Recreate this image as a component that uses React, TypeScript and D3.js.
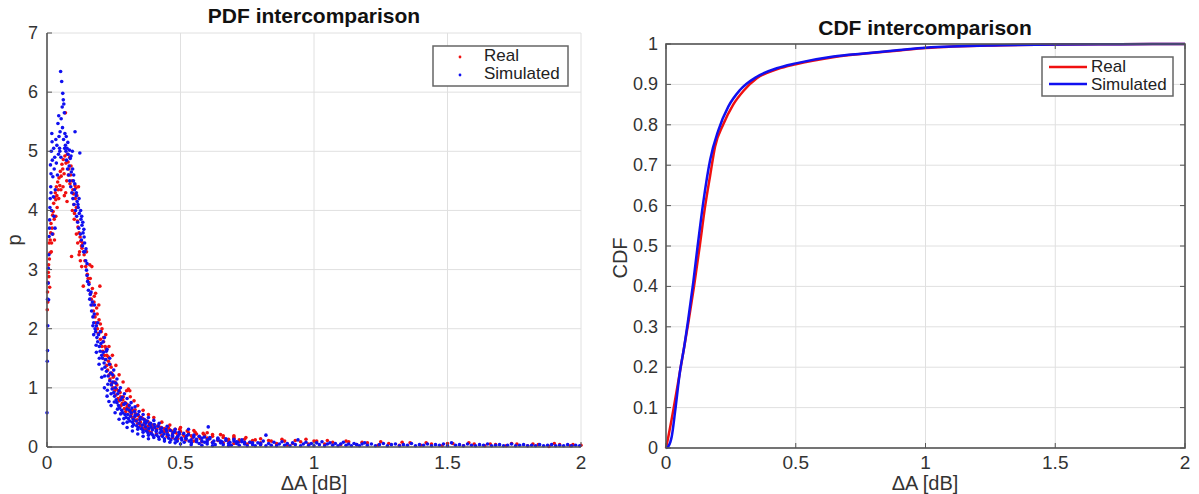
import * as d3 from "d3";

// ---------- DATA ----------
// PDF scatter, [ΔA dB, p]
const realPdf: [number, number][] = [
  [0.001, 2.32], [0.002, 2.62], [0.003, 2.45], [0.004, 2.78], [0.005, 2.95], [0.006, 3.08], [0.007, 2.88], [0.009, 3.18],
  [0.011, 3.28], [0.012, 3.5], [0.014, 3.62], [0.015, 3.78], [0.017, 3.45], [0.019, 3.7], [0.021, 3.92], [0.023, 3.98],
  [0.025, 4.12], [0.027, 3.85], [0.029, 4.22], [0.031, 4.3], [0.033, 4.18], [0.035, 4.4], [0.037, 4.25], [0.04, 4.48],
  [0.042, 4.35], [0.045, 4.55], [0.048, 4.42], [0.05, 4.66], [0.053, 4.58], [0.056, 4.78], [0.059, 4.7], [0.061, 4.86],
  [0.064, 4.62], [0.067, 4.92], [0.069, 5.65], [0.071, 4.8], [0.074, 4.5], [0.076, 4.95], [0.079, 4.82], [0.082, 4.7],
  [0.085, 4.9], [0.088, 4.6], [0.09, 4.75], [0.092, 3.22], [0.094, 4.5], [0.097, 4.35], [0.099, 4.28], [0.101, 4.1],
  [0.103, 3.95], [0.105, 4.42], [0.108, 4.38], [0.11, 4.05], [0.112, 4.25], [0.114, 3.82], [0.116, 3.72], [0.118, 4.4],
  [0.12, 3.62], [0.122, 3.3], [0.124, 3.55], [0.126, 3.48], [0.129, 3.4], [0.131, 3.36], [0.134, 3.45], [0.136, 2.72],
  [0.139, 3.25], [0.142, 3.15], [0.145, 3.05], [0.148, 3.3], [0.151, 2.92], [0.154, 2.85], [0.157, 2.78], [0.16, 3.08],
  [0.163, 2.6], [0.166, 2.5], [0.168, 3.05], [0.171, 2.4], [0.174, 2.3], [0.177, 2.55], [0.18, 2.2], [0.183, 2.1],
  [0.186, 2.35], [0.189, 2.0], [0.192, 1.92], [0.195, 2.15], [0.198, 2.72], [0.2, 1.82], [0.203, 1.95], [0.206, 1.7],
  [0.209, 1.62], [0.212, 1.85], [0.215, 1.55], [0.218, 1.48], [0.221, 1.66], [0.224, 1.38], [0.227, 1.3], [0.23, 1.52],
  [0.233, 1.22], [0.236, 1.15], [0.24, 1.35], [0.243, 1.08], [0.247, 1.0], [0.25, 1.2], [0.254, 0.95], [0.258, 0.88],
  [0.262, 1.05], [0.266, 0.82], [0.27, 0.78], [0.274, 0.92], [0.278, 0.7], [0.282, 0.74], [0.286, 0.85], [0.29, 0.65],
  [0.295, 0.6], [0.3, 0.72], [0.305, 0.98], [0.31, 0.95], [0.315, 0.55], [0.32, 0.62], [0.326, 0.5], [0.332, 0.56],
  [0.338, 0.46], [0.344, 0.52], [0.35, 0.42], [0.357, 0.48], [0.364, 0.38], [0.371, 0.44], [0.378, 0.35], [0.385, 0.4],
  [0.393, 0.32], [0.4, 0.37], [0.41, 0.3], [0.42, 0.34], [0.43, 0.27], [0.44, 0.31], [0.45, 0.25], [0.46, 0.29],
  [0.47, 0.22], [0.48, 0.3], [0.49, 0.2], [0.5, 0.26], [0.515, 0.18], [0.53, 0.24], [0.545, 0.16], [0.56, 0.22],
  [0.575, 0.14], [0.59, 0.2], [0.605, 0.13], [0.62, 0.18], [0.64, 0.11], [0.66, 0.16], [0.68, 0.1], [0.7, 0.15],
  [0.72, 0.09], [0.74, 0.13], [0.76, 0.08], [0.78, 0.12], [0.8, 0.07], [0.83, 0.11], [0.86, 0.06], [0.89, 0.1],
  [0.92, 0.06], [0.95, 0.09], [0.98, 0.05], [1.01, 0.1], [1.04, 0.05], [1.07, 0.08], [1.1, 0.04], [1.13, 0.09],
  [1.16, 0.04], [1.2, 0.07], [1.24, 0.03], [1.28, 0.06], [1.32, 0.03], [1.36, 0.07], [1.4, 0.03], [1.44, 0.05],
  [1.48, 0.02], [1.52, 0.06], [1.56, 0.02], [1.6, 0.05], [1.64, 0.02], [1.68, 0.04], [1.72, 0.02], [1.76, 0.05],
  [1.8, 0.02], [1.84, 0.04], [1.88, 0.01], [1.92, 0.04], [1.96, 0.02], [2.0, 0.03],
  // second layer of the band
  [0.305, 0.66], [0.318, 0.58], [0.33, 0.63], [0.342, 0.54], [0.354, 0.5], [0.366, 0.46], [0.378, 0.43], [0.39, 0.38],
  [0.402, 0.34], [0.415, 0.36], [0.428, 0.33], [0.44, 0.26], [0.455, 0.32], [0.468, 0.27], [0.482, 0.24], [0.497, 0.3],
  [0.51, 0.21], [0.525, 0.27], [0.54, 0.19], [0.555, 0.25], [0.57, 0.17], [0.585, 0.23], [0.6, 0.15], [0.62, 0.21],
  [0.64, 0.14], [0.66, 0.19], [0.68, 0.13], [0.7, 0.17], [0.72, 0.12], [0.745, 0.16], [0.77, 0.11], [0.8, 0.14],
  [0.84, 0.1], [0.88, 0.13], [0.93, 0.11], [0.97, 0.13], [1.0, 0.1], [1.05, 0.11], [1.12, 0.1], [1.18, 0.08],
  [1.25, 0.09], [1.33, 0.08], [1.42, 0.07], [1.5, 0.06], [1.58, 0.07], [1.66, 0.05], [1.74, 0.06], [1.82, 0.05],
  [1.9, 0.06], [1.97, 0.04],
  // third layer
  [0.162, 2.85], [0.17, 2.68], [0.176, 2.45], [0.182, 2.6], [0.188, 2.25], [0.194, 2.4], [0.2, 2.08], [0.206, 2.0],
  [0.212, 1.78], [0.218, 1.7], [0.224, 1.55], [0.23, 1.45], [0.236, 1.4], [0.242, 1.25], [0.248, 1.18], [0.254, 1.1],
  [0.26, 0.98], [0.268, 0.95], [0.276, 0.85], [0.284, 0.8], [0.292, 0.75], [0.3, 0.68], [0.31, 0.6], [0.32, 0.5],
  [0.33, 0.45], [0.34, 0.4], [0.35, 0.36], [0.36, 0.32], [0.37, 0.3], [0.38, 0.27], [0.39, 0.25], [0.41, 0.22],
  [0.43, 0.2], [0.45, 0.18], [0.47, 0.16], [0.49, 0.14], [0.52, 0.12], [0.55, 0.1], [0.58, 0.09], [0.62, 0.08],
  [0.66, 0.07], [0.7, 0.06], [0.75, 0.05], [0.8, 0.04], [0.86, 0.04], [0.9, 0.03],
  [0.06, 4.4], [0.065, 4.25], [0.07, 4.3], [0.075, 4.15], [0.08, 4.6], [0.086, 4.45], [0.095, 4.0], [0.102, 3.85],
  [0.106, 4.2], [0.11, 3.6], [0.115, 3.45], [0.12, 3.25], [0.125, 3.15], [0.13, 3.05], [0.01, 2.7], [0.008, 3.45],
  [0.016, 3.3], [0.022, 3.6], [0.028, 3.5], [0.033, 3.9], [0.038, 4.05], [0.044, 4.2], [0.052, 4.35],
  // outer edge of the band
  [0.22, 1.9], [0.232, 1.7], [0.245, 1.55], [0.258, 1.38], [0.27, 1.22], [0.285, 1.1], [0.298, 0.95], [0.312, 0.85],
  [0.326, 0.78], [0.34, 0.7], [0.36, 0.62], [0.38, 0.55], [0.4, 0.5], [0.43, 0.42], [0.46, 0.37], [0.5, 0.33],
  [0.55, 0.28], [0.6, 0.24], [0.65, 0.21], [0.7, 0.19],
];

const simPdf: [number, number][] = [
  [0.0, 0.58], [0.001, 1.45], [0.002, 1.63], [0.003, 2.05], [0.002, 2.5], [0.004, 2.77], [0.005, 3.02], [0.006, 2.49],
  [0.007, 3.25], [0.008, 3.56], [0.009, 3.7], [0.01, 3.84], [0.011, 4.05], [0.012, 4.2], [0.013, 4.77], [0.014, 4.4],
  [0.015, 4.62], [0.016, 5.0], [0.018, 5.3], [0.019, 5.16], [0.02, 4.85], [0.022, 4.57], [0.024, 4.23], [0.025, 5.05],
  [0.027, 4.7], [0.029, 4.9], [0.031, 4.35], [0.033, 5.2], [0.035, 4.8], [0.037, 5.1], [0.039, 4.6], [0.041, 5.47],
  [0.043, 4.95], [0.045, 5.25], [0.047, 5.05], [0.049, 5.33], [0.051, 6.35], [0.053, 5.55], [0.055, 6.18], [0.057, 5.75],
  [0.059, 5.98], [0.061, 5.87], [0.063, 5.8], [0.065, 5.65], [0.067, 5.3], [0.069, 5.1], [0.071, 5.0], [0.073, 4.85],
  [0.075, 5.05], [0.077, 4.7], [0.079, 4.95], [0.081, 4.6], [0.083, 4.75], [0.085, 4.5], [0.087, 4.88], [0.089, 4.4],
  [0.091, 4.65], [0.093, 4.3], [0.095, 5.0], [0.097, 4.2], [0.099, 4.5], [0.101, 4.1], [0.103, 4.35], [0.105, 5.33],
  [0.107, 4.0], [0.109, 4.25], [0.111, 3.9], [0.113, 4.15], [0.115, 3.8], [0.117, 4.05], [0.119, 3.7], [0.121, 3.95],
  [0.123, 4.97], [0.125, 3.6], [0.127, 3.85], [0.129, 3.5], [0.131, 3.75], [0.133, 3.4], [0.135, 3.62], [0.137, 3.3],
  [0.139, 3.55], [0.142, 3.3], [0.145, 3.15], [0.148, 2.99], [0.15, 2.9], [0.152, 2.8], [0.155, 2.65], [0.157, 2.75],
  [0.16, 2.5], [0.162, 2.58], [0.165, 2.4], [0.167, 2.3], [0.17, 2.45], [0.172, 2.2], [0.175, 2.1], [0.177, 2.25],
  [0.18, 2.0], [0.182, 1.95], [0.185, 2.05], [0.187, 1.85], [0.19, 1.78], [0.193, 1.9], [0.196, 1.7], [0.199, 1.62],
  [0.202, 1.75], [0.205, 1.55], [0.208, 1.5], [0.211, 1.6], [0.214, 1.42], [0.217, 1.35], [0.22, 1.48], [0.223, 1.28],
  [0.226, 0.96], [0.229, 1.2], [0.232, 0.77], [0.235, 1.12], [0.238, 1.25], [0.241, 1.05], [0.244, 0.98], [0.247, 1.1],
  [0.25, 0.92], [0.253, 0.86], [0.256, 1.0], [0.259, 0.8], [0.262, 0.75], [0.265, 0.9], [0.268, 0.7], [0.272, 0.66],
  [0.276, 0.8], [0.28, 0.62], [0.284, 0.58], [0.288, 0.72], [0.292, 0.55], [0.296, 0.5], [0.3, 0.64], [0.305, 0.48],
  [0.31, 0.44], [0.315, 0.58], [0.32, 0.42], [0.325, 0.38], [0.33, 0.52], [0.336, 0.36], [0.342, 0.33], [0.348, 0.46],
  [0.354, 0.31], [0.36, 0.28], [0.366, 0.42], [0.372, 0.27], [0.378, 0.24], [0.384, 0.38], [0.39, 0.23], [0.397, 0.2],
  [0.404, 0.33], [0.411, 0.2], [0.418, 0.17], [0.425, 0.3], [0.432, 0.18], [0.44, 0.14], [0.448, 0.27], [0.456, 0.15],
  [0.464, 0.12], [0.472, 0.24], [0.48, 0.13], [0.488, 0.1], [0.496, 0.22], [0.505, 0.12], [0.514, 0.08], [0.523, 0.19],
  [0.532, 0.1], [0.541, 0.07], [0.55, 0.17], [0.56, 0.09], [0.57, 0.06], [0.58, 0.15], [0.59, 0.08], [0.6, 0.05],
  [0.61, 0.14], [0.62, 0.07], [0.63, 0.04], [0.64, 0.12], [0.65, 0.07], [0.66, 0.04], [0.67, 0.11], [0.68, 0.06],
  [0.69, 0.03], [0.7, 0.1], [0.71, 0.06], [0.72, 0.03], [0.73, 0.09], [0.74, 0.05], [0.75, 0.02],
  [0.76, 0.08], [0.77, 0.04], [0.78, 0.02], [0.79, 0.07], [0.8, 0.04], [0.81, 0.1], [0.82, 0.02], [0.83, 0.06],
  [0.84, 0.03], [0.85, 0.08], [0.86, 0.02], [0.87, 0.05], [0.88, 0.09], [0.89, 0.03], [0.9, 0.06], [0.91, 0.02],
  [0.92, 0.07], [0.93, 0.04], [0.94, 0.12], [0.95, 0.02], [0.96, 0.05], [0.97, 0.08], [0.98, 0.03], [0.99, 0.06],
  [1.0, 0.02], [1.01, 0.07], [1.02, 0.04], [1.03, 0.09], [1.04, 0.02], [1.05, 0.05], [1.06, 0.07], [1.07, 0.03],
  [1.08, 0.06], [1.09, 0.02], [1.1, 0.05], [1.11, 0.08], [1.12, 0.03], [1.13, 0.05], [1.14, 0.02], [1.15, 0.06],
  [1.16, 0.04], [1.17, 0.02], [1.18, 0.05], [1.19, 0.07], [1.2, 0.03], [1.215, 0.05], [1.23, 0.02], [1.245, 0.04],
  [1.26, 0.06], [1.275, 0.02], [1.29, 0.04], [1.305, 0.05], [1.32, 0.02], [1.335, 0.04], [1.35, 0.03], [1.365, 0.06],
  [1.38, 0.02], [1.395, 0.04], [1.41, 0.03], [1.425, 0.05], [1.44, 0.02], [1.455, 0.04], [1.47, 0.03], [1.485, 0.05],
  [1.5, 0.02], [1.515, 0.07], [1.53, 0.03], [1.545, 0.04], [1.56, 0.02], [1.575, 0.05], [1.59, 0.03], [1.605, 0.02],
  [1.62, 0.04], [1.635, 0.03], [1.65, 0.05], [1.665, 0.02], [1.68, 0.03], [1.695, 0.04], [1.71, 0.02], [1.725, 0.03],
  [1.74, 0.05], [1.755, 0.02], [1.77, 0.03], [1.785, 0.04], [1.8, 0.02], [1.815, 0.03], [1.83, 0.02], [1.845, 0.04],
  [1.86, 0.02], [1.875, 0.03], [1.89, 0.04], [1.905, 0.02], [1.92, 0.03], [1.935, 0.02], [1.95, 0.04], [1.965, 0.02],
  [1.98, 0.03], [1.995, 0.02],
  // second layer of the band + outliers
  [0.302, 0.55], [0.308, 0.7], [0.313, 0.52], [0.318, 0.66], [0.323, 0.47], [0.328, 0.6], [0.334, 0.44], [0.34, 0.55],
  [0.345, 0.4], [0.351, 0.5], [0.357, 0.37], [0.363, 0.47], [0.369, 0.34], [0.375, 0.44], [0.381, 0.31], [0.388, 0.4],
  [0.395, 0.29], [0.402, 0.38], [0.409, 0.26], [0.416, 0.35], [0.423, 0.24], [0.43, 0.32], [0.438, 0.22], [0.446, 0.3],
  [0.454, 0.2], [0.462, 0.28], [0.47, 0.18], [0.478, 0.26], [0.486, 0.16], [0.494, 0.25], [0.503, 0.15], [0.512, 0.23],
  [0.521, 0.14], [0.53, 0.21], [0.54, 0.12], [0.55, 0.2], [0.56, 0.11], [0.57, 0.18], [0.58, 0.1], [0.59, 0.17],
  [0.6, 0.09], [0.61, 0.16], [0.625, 0.1], [0.64, 0.15], [0.655, 0.09], [0.67, 0.14], [0.685, 0.08], [0.7, 0.13],
  [0.715, 0.08], [0.73, 0.12], [0.604, 0.34], [0.82, 0.2], [0.53, 0.3],
  // third layer
  [0.165, 2.62], [0.172, 2.05], [0.178, 2.4], [0.184, 1.72], [0.19, 2.1], [0.196, 1.5], [0.2, 1.95], [0.206, 1.32],
  [0.21, 1.78], [0.216, 1.2], [0.222, 1.62], [0.228, 1.06], [0.234, 1.4], [0.24, 0.9], [0.246, 1.22], [0.252, 0.76],
  [0.258, 1.08], [0.264, 0.64], [0.27, 0.95], [0.276, 0.56], [0.282, 0.84], [0.288, 0.48], [0.294, 0.74], [0.3, 0.42],
  [0.31, 0.62], [0.32, 0.35], [0.33, 0.54], [0.34, 0.3], [0.35, 0.48], [0.36, 0.25], [0.37, 0.4], [0.38, 0.2],
  [0.39, 0.34], [0.4, 0.16], [0.41, 0.28], [0.42, 0.13], [0.43, 0.26], [0.44, 0.1], [0.45, 0.22], [0.46, 0.08],
  [0.47, 0.2], [0.48, 0.07], [0.49, 0.18], [0.5, 0.05], [0.52, 0.15], [0.54, 0.04], [0.56, 0.13], [0.58, 0.03],
  [0.6, 0.12], [0.62, 0.02], [0.65, 0.1], [0.68, 0.02], [0.71, 0.09], [0.74, 0.08], [0.77, 0.07], [0.8, 0.06],
  [0.044, 5.6], [0.048, 5.0], [0.052, 4.9], [0.058, 5.4], [0.062, 5.2], [0.066, 5.05], [0.072, 5.25], [0.078, 5.15],
  [0.084, 5.02], [0.09, 4.92], [0.096, 4.7], [0.1, 4.6], [0.104, 4.45], [0.11, 4.3], [0.116, 4.1], [0.12, 4.2],
  [0.126, 4.0], [0.13, 3.9], [0.134, 3.8], [0.138, 3.68], [0.141, 3.45], [0.146, 3.35], [0.15, 3.1], [0.03, 3.7],
  [0.026, 3.9], [0.02, 3.6], [0.017, 4.0], [0.015, 4.3],
  // outer edges of the band
  [0.215, 1.85], [0.225, 1.65], [0.235, 1.5], [0.25, 1.3], [0.262, 1.15], [0.275, 1.0], [0.29, 0.9], [0.3, 0.82],
  [0.315, 0.75], [0.33, 0.68], [0.345, 0.6], [0.36, 0.55], [0.38, 0.5], [0.4, 0.45], [0.42, 0.4], [0.45, 0.35],
  [0.48, 0.3], [0.175, 1.9], [0.185, 1.6], [0.195, 1.4], [0.205, 1.18], [0.215, 1.0], [0.225, 0.86], [0.24, 0.7],
  [0.255, 0.58], [0.27, 0.47], [0.285, 0.4], [0.3, 0.33], [0.32, 0.27], [0.34, 0.22], [0.36, 0.18], [0.38, 0.14],
];

// CDF curves
const realCdfX = [0, 0.009, 0.02, 0.03, 0.054, 0.086, 0.108, 0.13, 0.15, 0.17, 0.189, 0.22, 0.259, 0.3, 0.35, 0.43, 0.5, 0.65, 0.78, 0.9, 1.0, 1.3, 1.5, 1.75, 2.0];
const realCdfY = [0, 0.028, 0.065, 0.1, 0.19, 0.31, 0.4, 0.5, 0.595, 0.674, 0.746, 0.8, 0.85, 0.885, 0.915, 0.938, 0.95, 0.968, 0.977, 0.984, 0.99, 0.997, 0.999, 0.9995, 1.0];
const simCdfX = [0, 0.01, 0.022, 0.035, 0.054, 0.07, 0.086, 0.105, 0.12, 0.144, 0.17, 0.202, 0.24, 0.285, 0.35, 0.427, 0.5, 0.645, 0.773, 0.9, 1.0, 1.29, 1.5, 1.75, 2.0];
const simCdfY = [0, 0.005, 0.028, 0.09, 0.19, 0.25, 0.32, 0.41, 0.49, 0.61, 0.713, 0.787, 0.845, 0.886, 0.919, 0.94, 0.952, 0.969, 0.977, 0.985, 0.991, 0.997, 0.999, 0.9995, 1.0];

const xTicks = [0, 0.5, 1, 1.5, 2];
const pdfTicks = [0, 1, 2, 3, 4, 5, 6, 7];
const cdfTicks = [0, 0.1, 0.2, 0.3, 0.4, 0.5, 0.6, 0.7, 0.8, 0.9, 1];
const seriesNames = ["Real", "Simulated"];

const RED = "#f01010";
const BLUE = "#1010f0";
const GRID = "#e0e0e0";
const AXIS = "#555";
const FONT = "'Liberation Sans', Arial, Helvetica, sans-serif";

export default function App() {
  // left panel
  const xL = d3.scaleLinear().domain([0, 2]).range([47, 581]);
  const yL = d3.scaleLinear().domain([0, 7]).range([447, 33]);
  // right panel
  const xR = d3.scaleLinear().domain([0, 2]).range([666, 1185]);
  const yR = d3.scaleLinear().domain([0, 1]).range([448, 44]);

  const line = (xs: number[], ys: number[]) =>
    d3.line<number>()
      .x((_, i) => xR(xs[i]))
      .y((_, i) => yR(ys[i]))
      .curve(d3.curveMonotoneX)(xs) || "";

  const fmt = (d: number) => String(d);

  return (
    <svg width={1199} height={494} style={{ position: "absolute", left: 0, top: 0, background: "#fff" }} fontFamily={FONT}>
      {/* ---------- PDF panel ---------- */}
      <g>
        {xTicks.map(t => (
          <line key={"gx" + t} x1={xL(t)} x2={xL(t)} y1={yL(0)} y2={yL(7)} stroke={GRID} strokeWidth={1} />
        ))}
        {pdfTicks.map(t => (
          <line key={"gy" + t} x1={xL(0)} x2={xL(2)} y1={yL(t)} y2={yL(t)} stroke={GRID} strokeWidth={1} />
        ))}
        {realPdf.map((d, i) => (
          <circle key={"r" + i} cx={xL(d[0])} cy={yL(d[1])} r={1.8} fill={RED} />
        ))}
        {simPdf.map((d, i) => (
          <circle key={"b" + i} cx={xL(d[0])} cy={yL(d[1])} r={1.8} fill={BLUE} />
        ))}
        <line x1={xL(0)} x2={xL(0)} y1={yL(0)} y2={yL(7)} stroke={AXIS} strokeWidth={1.6} />
        <line x1={xL(0)} x2={xL(2)} y1={yL(0)} y2={yL(0)} stroke={AXIS} strokeWidth={1.6} />
        {pdfTicks.map(t => (
          <g key={"ty" + t}>
            <line x1={xL(0)} x2={xL(0) + 5} y1={yL(t)} y2={yL(t)} stroke={AXIS} strokeWidth={1} />
            <text x={xL(0) - 9} y={yL(t) + 6} textAnchor="end" fontSize={18} fill="#333">{fmt(t)}</text>
          </g>
        ))}
        {xTicks.map(t => (
          <g key={"tx" + t}>
            <line x1={xL(t)} x2={xL(t)} y1={yL(0)} y2={yL(0) - 5} stroke={AXIS} strokeWidth={1} />
            <text x={xL(t)} y={469} textAnchor="middle" fontSize={19} fill="#333">{fmt(t)}</text>
          </g>
        ))}
        <text x={314} y={23} textAnchor="middle" fontSize={21} fontWeight="bold" fill="#111">PDF intercomparison</text>
        <text x={314} y={490} textAnchor="middle" fontSize={20} fill="#333">ΔA [dB]</text>
        <text transform={`translate(21,240) rotate(-90)`} textAnchor="middle" fontSize={20} fill="#333">p</text>
        {/* legend */}
        <rect x={433} y={46} width={135} height={40} fill="#fff" stroke="#666" strokeWidth={1.5} />
        <circle cx={460} cy={57} r={1.4} fill={RED} />
        <circle cx={460} cy={75} r={1.4} fill={BLUE} />
        <text x={484} y={61} fontSize={17} fill="#222">{seriesNames[0]}</text>
        <text x={484} y={79} fontSize={17} fill="#222">{seriesNames[1]}</text>
      </g>

      {/* ---------- CDF panel ---------- */}
      <g>
        {xTicks.map(t => (
          <line key={"cgx" + t} x1={xR(t)} x2={xR(t)} y1={yR(0)} y2={yR(1)} stroke={GRID} strokeWidth={1} />
        ))}
        {cdfTicks.map(t => (
          <line key={"cgy" + t} x1={xR(0)} x2={xR(2)} y1={yR(t)} y2={yR(t)} stroke={GRID} strokeWidth={1} />
        ))}
        <path d={line(realCdfX, realCdfY)} fill="none" stroke={RED} strokeWidth={2.5} />
        <path d={line(simCdfX, simCdfY)} fill="none" stroke={BLUE} strokeWidth={2.5} />
        <rect x={xR(0)} y={yR(1)} width={xR(2) - xR(0)} height={yR(0) - yR(1)} fill="none" stroke={AXIS} strokeWidth={1.6} />
        {cdfTicks.map(t => (
          <g key={"cty" + t}>
            <line x1={xR(0)} x2={xR(0) + 5} y1={yR(t)} y2={yR(t)} stroke={AXIS} strokeWidth={1} />
            <line x1={xR(2)} x2={xR(2) - 5} y1={yR(t)} y2={yR(t)} stroke={AXIS} strokeWidth={1} />
            <text x={xR(0) - 8} y={yR(t) + 6} textAnchor="end" fontSize={18} fill="#333">{fmt(t)}</text>
          </g>
        ))}
        {xTicks.map(t => (
          <g key={"ctx" + t}>
            <line x1={xR(t)} x2={xR(t)} y1={yR(0)} y2={yR(0) - 5} stroke={AXIS} strokeWidth={1} />
            <line x1={xR(t)} x2={xR(t)} y1={yR(1)} y2={yR(1) + 5} stroke={AXIS} strokeWidth={1} />
            <text x={xR(t)} y={469} textAnchor="middle" fontSize={19} fill="#333">{fmt(t)}</text>
          </g>
        ))}
        <text x={925} y={35} textAnchor="middle" fontSize={21} fontWeight="bold" fill="#111">CDF intercomparison</text>
        <text x={925} y={490} textAnchor="middle" fontSize={20} fill="#333">ΔA [dB]</text>
        <text transform={`translate(627,258) rotate(-90)`} textAnchor="middle" fontSize={20} fill="#333">CDF</text>
        {/* legend */}
        <rect x={1042} y={57} width={131} height={39} fill="#fff" stroke="#666" strokeWidth={1.5} />
        <line x1={1049} x2={1087} y1={67} y2={67} stroke={RED} strokeWidth={2.5} />
        <line x1={1049} x2={1087} y1={84} y2={84} stroke={BLUE} strokeWidth={2.5} />
        <text x={1091} y={72} fontSize={17} fill="#222">{seriesNames[0]}</text>
        <text x={1091} y={90} fontSize={17} fill="#222">{seriesNames[1]}</text>
      </g>
    </svg>
  );
}
